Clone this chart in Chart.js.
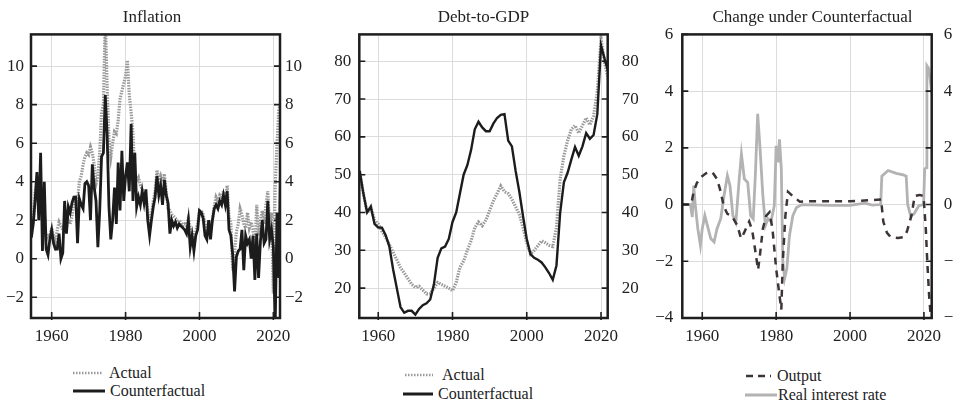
<!DOCTYPE html>
<html><head><meta charset="utf-8">
<script src="https://cdn.jsdelivr.net/npm/chart.js@4.4.1/dist/chart.umd.min.js"></script>
<style>
html,body{margin:0;padding:0;background:#fff;width:953px;height:400px;overflow:hidden;position:relative;}
canvas{position:absolute;top:0;}
.lt{position:absolute;color:#222;white-space:nowrap;line-height:18px;}
.ls{position:absolute;}
</style></head><body>
<canvas id="c1" width="304" height="345" style="left:0px"></canvas>
<canvas id="c2" width="323" height="345" style="left:322px"></canvas>
<canvas id="c3" width="315" height="345" style="left:655px"></canvas>

<svg class="ls" style="left:73px;top:368px" width="32" height="10"><line x1="0" y1="5" x2="30" y2="5" stroke="#9a9a9a" stroke-width="2.5" stroke-dasharray="1.5,1.5"/></svg>
<div class="lt" style="left:109px;top:364px">Actual</div>
<svg class="ls" style="left:73px;top:386px" width="34" height="10"><line x1="0" y1="5" x2="32" y2="5" stroke="#1c1c1c" stroke-width="3"/></svg>
<div class="lt" style="left:110px;top:382px">Counterfactual</div>

<svg class="ls" style="left:405px;top:370px" width="32" height="10"><line x1="0" y1="5" x2="28" y2="5" stroke="#9a9a9a" stroke-width="2.5" stroke-dasharray="1.5,1.5"/></svg>
<div class="lt" style="left:442px;top:366px">Actual</div>
<svg class="ls" style="left:403px;top:389px" width="34" height="10"><line x1="0" y1="5" x2="30" y2="5" stroke="#1c1c1c" stroke-width="3"/></svg>
<div class="lt" style="left:438px;top:385px">Counterfactual</div>

<svg class="ls" style="left:746px;top:371px" width="30" height="10"><line x1="0" y1="5" x2="25" y2="5" stroke="#3d3535" stroke-width="2.5" stroke-dasharray="7,5"/></svg>
<div class="lt" style="left:777px;top:367px">Output</div>
<svg class="ls" style="left:745px;top:390px" width="34" height="10"><line x1="0" y1="5" x2="32" y2="5" stroke="#b3b3b3" stroke-width="3"/></svg>
<div class="lt" style="left:778px;top:386px">Real interest rate</div>

<script>
// ---------- data ----------
const xTickYears = [1960, 1980, 2000, 2020];

// Inflation (half-year steps from 1954.5)
const inflStart = 1954.5;
const inflActual = [
  2.0, 1.8, 3.5, 4.0, 3.2, 4.0, 2.5, 2.3, 1.0, 1.2,
  1.2, 1.6, 1.2, 0.8, 1.5, 1.9, 1.7, 1.5, 1.8, 1.6,
  2.0, 1.8, 2.2, 3.0, 3.3, 3.0, 4.0, 4.3, 4.9, 5.3,
  5.5, 5.4, 5.8, 5.5, 4.9, 3.9, 4.3, 5.5, 7.6, 8.0,
  12.5, 9.0, 6.2, 5.3, 6.0, 6.6, 6.5, 7.2, 8.3, 8.7,
  9.1, 9.5, 10.3, 8.5, 7.6, 6.5, 4.5, 4.0, 4.2, 3.8,
  3.6, 3.2, 3.2, 2.5, 1.8, 2.3, 3.0, 3.5, 4.6, 4.0,
  4.3, 4.0, 4.4, 3.5, 2.6, 2.5, 2.3, 2.2, 2.1, 1.9,
  2.0, 1.9, 1.7, 1.8, 1.7, 2.1, 1.6, 1.4, 1.0, 1.4,
  1.8, 2.5, 2.5, 2.3, 1.8, 1.5, 2.0, 1.6, 2.0, 2.7,
  3.2, 3.0, 3.3, 3.2, 3.5, 3.0, 3.8, 2.2, 1.8, -0.6,
  0.3, 1.4, 1.8, 2.6, 2.3, 1.8, 1.6, 2.4, 1.6, 1.9,
  1.5, 0.5, 2.8, 1.2, 2.0, 2.5, 1.8, 2.8, 3.5, 1.6,
  2.4, -1.8, 3.8, 6.0, 7.8, 8.0
];
const inflCounter = [
  1.1, 1.8, 3.0, 4.5, 2.0, 5.5, 0.4, 4.0, 0.5, 0.2,
  1.0, 1.5, 0.8, 0.5, 0.5, 1.3, 0.0, 0.3, 3.0, 1.3,
  2.7, 2.4, 2.9, 3.2, 3.2, 0.8, 3.1, 2.8, 2.6, 3.9,
  4.0, 3.8, 2.0, 4.9, 3.7, 3.0, 0.6, 2.5, 5.3, 5.5,
  8.5, 6.5, 2.7, 1.0, 2.0, 3.7, 1.8, 5.0, 2.5, 5.6,
  3.0, 4.3, 5.0, 3.5, 7.0, 3.0, 5.5, 2.7, 3.2, 2.8,
  3.5, 2.9, 3.6, 2.0, 1.2, 2.0, 2.7, 3.2, 4.3, 3.3,
  3.8, 2.8, 4.1, 3.3, 2.9, 1.3, 2.0, 1.7, 1.9, 1.6,
  1.8, 1.7, 1.6, 1.5, 1.3, 2.0, 0.6, 1.2, 0.4, 1.2,
  1.5, 2.5, 2.4, 2.1, 1.2, 1.0, 2.0, 1.0, 2.0, 2.6,
  2.8, 2.6, 3.0, 2.8, 3.3, 2.8, 3.5, 1.5, 1.2, 0.2,
  -1.7, 0.1, 0.4, 0.5, 1.5, -0.6, 1.2, 0.8, 1.0, 0.0,
  1.2, -1.1, 1.3, -1.0, 0.9, 2.0, 0.8, 1.0, 3.0, 1.0,
  1.5, 0.6, -3.5, 2.4, -1.0, 5.5
];
const inflTicks = [-2, 0, 2, 4, 6, 8, 10];

// Debt-to-GDP (annual from 1955)
const debtStart = 1955;
const debtActual = [
  51, 45, 40, 41.5, 38, 37, 35, 33.4, 31.5, 29.5,
  27.5, 25.4, 24, 22.5, 21, 20.2, 20.5, 19.5, 18.5, 18.5,
  20, 21.5, 21, 20.5, 20, 19.3, 21.5, 25.5, 27.2, 30,
  32.5, 36, 37.5, 36.5, 38, 40.5, 43, 45, 47, 45.5,
  45, 43.5, 41.5, 39.5, 36, 32, 29, 30, 31.2, 32.5,
  32, 31.3, 31, 36, 49, 55, 59, 62, 63, 61,
  63, 65, 63.2, 65.5, 72, 86, 79.5, 75
];
const debtCounter = [
  51, 45, 40, 41.5, 37, 36, 36, 34, 31, 25,
  20, 15, 13.5, 14, 14, 13, 14.5, 15.5, 16, 17,
  21, 28, 30.5, 31, 33, 37.5, 40, 45, 50, 52.5,
  56.5, 62, 64, 62.5, 61.5, 61.5, 63.5, 65, 65.8, 66,
  59, 57.5, 51, 45.5, 39, 33, 29, 28, 27.5, 26.8,
  25.5, 24, 22.2, 26, 40, 48, 50.5, 54, 57.3, 55,
  57.5, 61, 59.5, 60.5, 66, 84.2, 80.5, 77
];
const debtTicks = [20, 30, 40, 50, 60, 70, 80];

// Change under Counterfactual
const outputYears = [1954.6, 1957.0, 1957.6, 1958.5, 1959.5, 1961.0, 1962.7, 1964.0, 1965.0, 1965.8,
  1966.8, 1968.0, 1969.5, 1970.5, 1971.3, 1971.8, 1972.7, 1973.5, 1974.1, 1975.1,
  1975.6, 1976.4, 1977.3, 1978.2, 1979.0, 1980.0, 1980.9, 1981.4, 1981.8, 1982.5,
  1983.2, 1984.5, 1986.4, 1990.0, 2000.0, 2005.0, 2008.4, 2009.0, 2010.0, 2011.0,
  2013.0, 2014.5, 2015.4, 2016.6, 2017.5, 2018.8, 2019.9, 2020.5, 2020.9, 2021.4,
  2021.8, 2022.2];
const outputValues = [0.0, 0.0, 0.4, 0.75, 0.95, 1.1, 1.15, 0.9, 0.45, -0.05,
  -0.33, -0.4, -0.74, -1.2, -1.0, -0.85, -0.6, -0.9, -1.4, -2.3,
  -1.8, -0.85, -0.4, -0.27, -0.85, -2.26, -3.2, -3.7, -2.0, -0.4,
  0.45, 0.3, 0.1, 0.12, 0.12, 0.15, 0.18, -0.6, -1.0, -1.15,
  -1.18, -1.15, -0.95, -0.4, 0.3, 0.34, 0.3, -0.85, -2.0, -3.2,
  -3.9, -4.5];
const rateYears = [1954.6, 1956.8, 1957.3, 1957.7, 1958.1, 1958.8, 1959.5, 1960.0, 1960.7, 1961.4,
  1962.3, 1963.2, 1964.0, 1965.0, 1965.9, 1966.8, 1967.5, 1968.3, 1969.1, 1970.0,
  1970.6, 1971.4, 1972.3, 1973.1, 1973.8, 1974.4, 1975.0, 1975.6, 1976.4, 1977.1,
  1977.8, 1978.6, 1979.5, 1980.0, 1980.5, 1980.9, 1981.4, 1981.8, 1982.3, 1982.9,
  1983.6, 1984.5, 1985.5, 1987.0, 1995.0, 2000.0, 2004.0, 2006.0, 2008.3, 2008.6,
  2010.3, 2012.5, 2014.4, 2015.2, 2015.6, 2016.4, 2017.3, 2018.6, 2019.9, 2020.2,
  2020.6, 2020.8, 2021.3, 2022.2];
const rateValues = [0.0, 0.0, -0.44, 0.67, 0.0, -0.85, -1.44, -0.85, -0.39, -0.74,
  -1.2, -1.32, -0.85, -0.5, 0.32, 1.02, 0.67, -0.39, -0.62, 0.9,
  1.78, 0.9, 0.78, -0.39, -0.5, 1.13, 3.2, 2.07, 0.32, -0.74,
  -0.5, -0.6, -0.04, 2.07, 1.49, 2.3, 1.25, -2.0, -2.6, -2.26,
  -1.1, -0.4, -0.1, 0.0, -0.03, -0.03, 0.05, -0.02, 0.0, 1.0,
  1.2, 1.1, 1.05, 1.0, 0.0, -0.4, -0.33, -0.04, 0.0, 1.25,
  1.3, 4.9, 4.8, 3.9];
const changeTicks = [-4, -2, 0, 2, 4, 6];

// ---------- font choice (serif face that is actually installed) ----------
function hasFont(name) {
  const c = document.createElement('canvas').getContext('2d');
  const s = 'Counterfactual 1960 WMmil';
  c.font = '40px monospace'; const a = c.measureText(s).width;
  c.font = '40px "' + name + '", monospace'; const b = c.measureText(s).width;
  return Math.abs(a - b) > 0.5;
}
let FAMILY, SZ, LSZ;
if (hasFont('Liberation Serif')) { FAMILY = '"Liberation Serif", serif'; SZ = 17; LSZ = 16; }
else if (hasFont('DejaVu Serif')) { FAMILY = '"DejaVu Serif", serif'; SZ = 14.5; LSZ = 13.5; }
else { FAMILY = 'serif'; SZ = 17; LSZ = 16; }
document.querySelectorAll('.lt').forEach(el => { el.style.fontFamily = FAMILY; el.style.fontSize = LSZ + 'px'; });

// ---------- helpers ----------
const FONT = {family: FAMILY, size: SZ, weight: 'normal'};
const TXT = '#222';
const fmt = v => String(v).replace('-', '\u2212');
const stepped = (start, step, arr) => arr.map((v, i) => ({x: start + i * step, y: v}));
const paired = (xs, ys) => xs.map((x, i) => ({x: x, y: ys[i]}));

const framePlugin = {
  id: 'frame',
  afterDatasetsDraw(chart) {
    const {ctx, chartArea: a, scales} = chart;
    ctx.save();
    ctx.strokeStyle = '#1e1e1e';
    ctx.lineWidth = 1.6;
    scales.y.ticks.forEach(t => {
      const y = scales.y.getPixelForValue(t.value);
      ctx.beginPath();
      ctx.moveTo(a.left, y); ctx.lineTo(a.left + 6, y);
      ctx.moveTo(a.right, y); ctx.lineTo(a.right - 6, y);
      ctx.stroke();
    });
    scales.x.ticks.forEach(t => {
      const x = scales.x.getPixelForValue(t.value);
      ctx.beginPath();
      ctx.moveTo(x, a.bottom + 2); ctx.lineTo(x, a.bottom - 6);
      ctx.stroke();
    });
    ctx.lineWidth = 2.5;
    ctx.strokeRect(a.left, a.top, a.right - a.left, a.bottom - a.top);
    ctx.restore();
  }
};

function makeChart(id, p) {
  const yAxis = (pos, width, pad, grid) => ({
    type: 'linear', position: pos, min: p.yMin, max: p.yMax,
    afterBuildTicks: s => { s.ticks = p.yTicks.map(v => ({value: v})); },
    afterFit: s => { s.width = width; },
    grid: {display: grid, color: '#dcdcdc', lineWidth: 1, drawTicks: false},
    border: {display: false},
    ticks: {font: FONT, color: TXT, padding: pad, callback: v => fmt(v)}
  });
  return new Chart(document.getElementById(id), {
    type: 'line',
    data: {datasets: p.datasets},
    options: {
      responsive: false, animation: false,
      layout: {padding: 0, autoPadding: false},
      elements: {point: {radius: 0}, line: {tension: 0}},
      plugins: {
        legend: {display: false}, tooltip: {enabled: false},
        title: {display: true, text: p.title, font: FONT, color: TXT,
                padding: {top: 7, bottom: 34.4 - 7 - SZ * 1.2}}
      },
      scales: {
        x: {
          type: 'linear', min: p.xMin, max: p.xMax,
          afterBuildTicks: s => { s.ticks = xTickYears.map(v => ({value: v})); },
          afterFit: s => { s.height = 27; },
          grid: {color: '#dcdcdc', lineWidth: 1, drawTicks: false},
          border: {display: false},
          ticks: {font: FONT, color: TXT, padding: 8, callback: v => String(v)}
        },
        y: yAxis('left', p.leftW, p.leftPad, true),
        y2: yAxis('right', p.rightW, p.rightPad, false)
      }
    },
    plugins: [framePlugin]
  });
}

makeChart('c1', {
  title: 'Inflation', xMin: 1954.4, xMax: 2021.8, yMin: -3.08, yMax: 11.65, yTicks: inflTicks,
  leftW: 31, rightW: 24, leftPad: 7, rightPad: 5,
  datasets: [
    {data: stepped(inflStart, 0.5, inflCounter), borderColor: '#1c1c1c', borderWidth: 2.8, order: 0, clip: 0},
    {data: stepped(inflStart, 0.5, inflActual), borderColor: '#999999', borderWidth: 3.2, borderDash: [1.5, 1.2], order: 1, clip: 0}
  ]
});

makeChart('c2', {
  title: 'Debt-to-GDP', xMin: 1954.9, xMax: 2021.8, yMin: 12.1, yMax: 87.1, yTicks: debtTicks,
  leftW: 37.3, rightW: 37.3, leftPad: 8, rightPad: 14,
  datasets: [
    {data: stepped(debtStart, 1, debtCounter), borderColor: '#1c1c1c', borderWidth: 2.4, order: 0, clip: 0},
    {data: stepped(debtStart, 1, debtActual), borderColor: '#999999', borderWidth: 3.2, borderDash: [1.5, 1.2], order: 1, clip: 0}
  ]
});

makeChart('c3', {
  title: 'Change under Counterfactual', xMin: 1954.6, xMax: 2022.1, yMin: -4, yMax: 6, yTicks: changeTicks,
  leftW: 27.3, rightW: 38.3, leftPad: 9, rightPad: 12,
  datasets: [
    {data: paired(outputYears, outputValues), borderColor: '#3d3535', borderWidth: 2.5, borderDash: [7, 6], order: 0, clip: 0},
    {data: paired(rateYears, rateValues), borderColor: '#b3b3b3', borderWidth: 2.8, order: 1, clip: 0}
  ]
});
</script>
</body></html>
